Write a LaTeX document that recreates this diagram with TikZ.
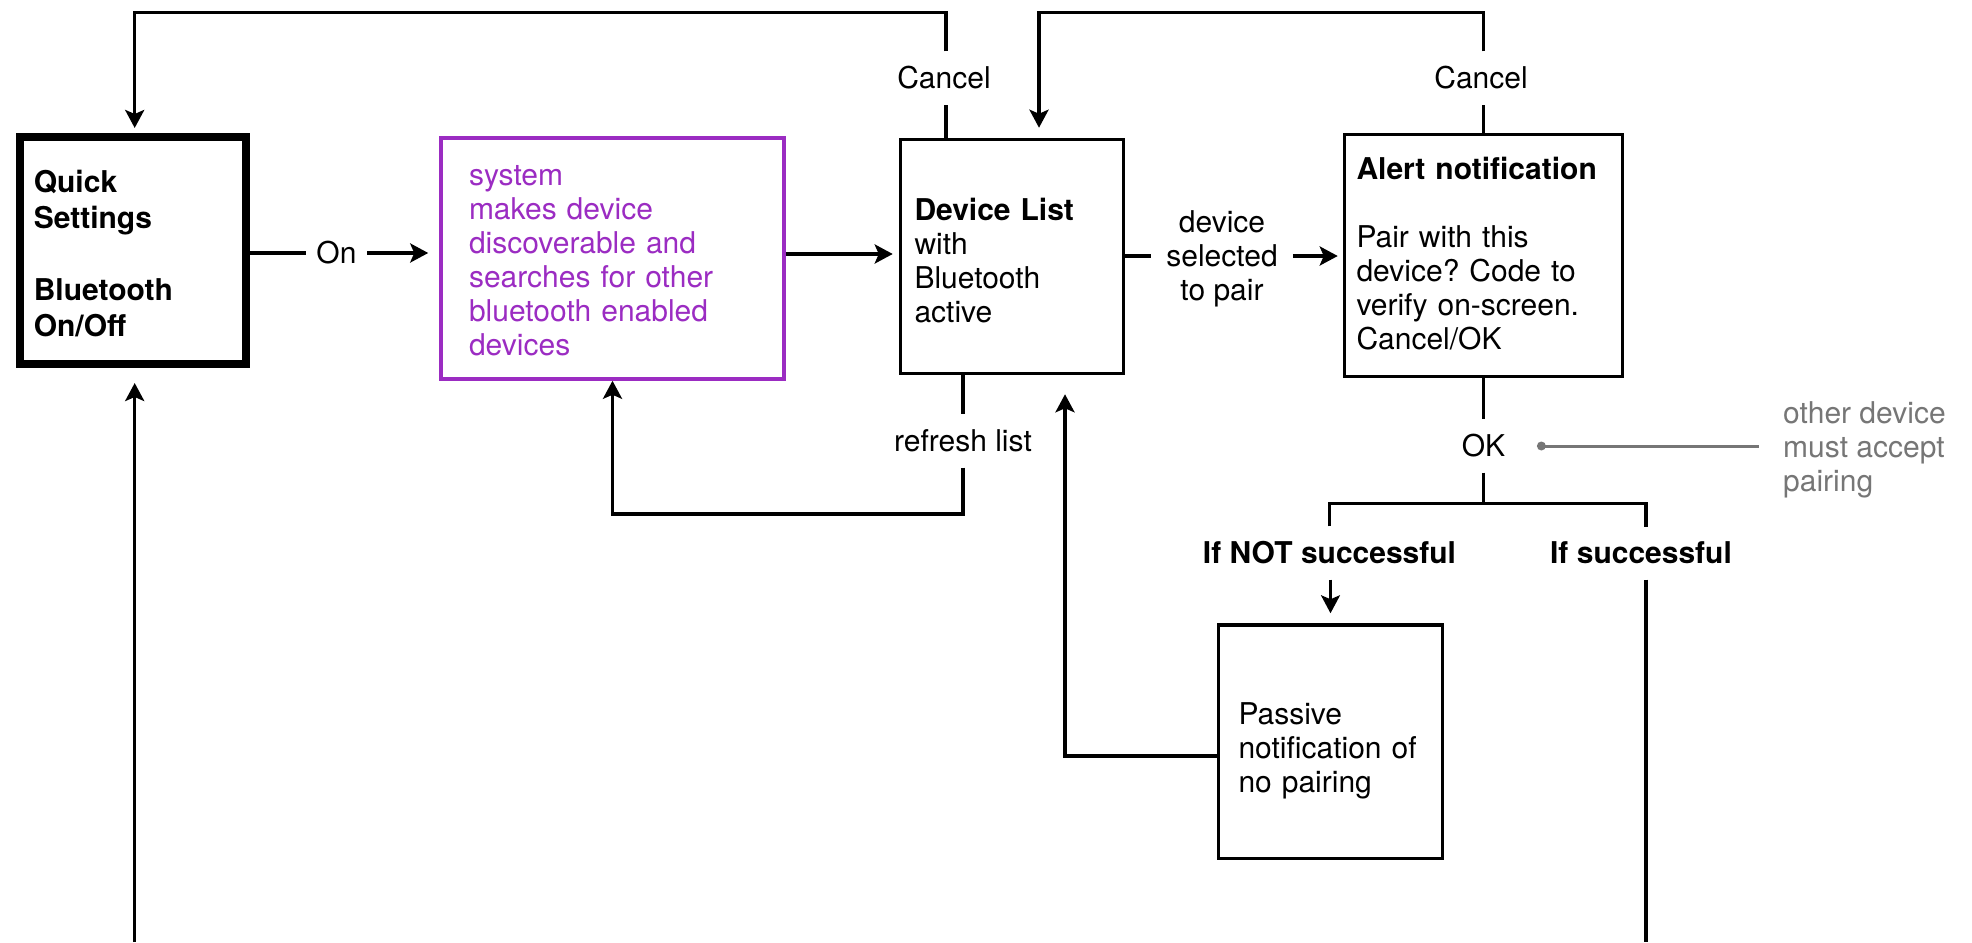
\documentclass[tikz,border=0pt]{standalone}
\usepackage{fontspec}
\setmainfont{TeX Gyre Heros}
\frenchspacing
\usetikzlibrary{arrows.meta,
                positioning}
\definecolor{mpurple}{RGB}{155,44,194}
\definecolor{mgray}{RGB}{118,118,118}
\tikzset{
        box/.style = {rectangle, draw, line width=3.5pt, align=left, inner ysep=0pt},
        tag/.style = {inner xsep=12pt, inner ysep=0pt, minimum height=53pt, align=center},
        line/.style = {draw, line width=3.5pt},
       arrow/.style = {line, -{Stealth[length=18pt, width=19pt, inset=4pt]}},
        note/.style = {text=mgray, align=left, inner xsep=24pt, inner ysep=0pt}
        }

\begin{document}
\begin{tikzpicture}[x=1pt, y=-1pt, font=\fontsize{30}{34}\selectfont
                        ]
\useasboundingbox (0,0) rectangle (1972,942);
% boxes
\node [box, line width=8pt, minimum width=226.5pt, minimum height=227pt, text width=198pt,
       inner xsep=14pt, font=\fontsize{30}{36}\selectfont\bfseries] (qs) at (132.75,250.5)
       {\rule{0pt}{28pt}Quick\\Settings\\[36pt]Bluetooth\\On/Off};
\node [box, draw=mpurple, text=mpurple, minimum width=343pt, minimum height=241pt,
       text width=287pt, inner xsep=28pt] (sys) at (612.5,258.5)
       {\rule{0pt}{24pt}system\\makes device\\discoverable and\\searches for other\\bluetooth enabled\\devices};
\node [box, minimum width=223pt, minimum height=234pt, text width=195pt, inner xsep=14pt] (dl) at (1012,256.5)
       {\rule{0pt}{30pt}\textbf{Device List}\\with\\Bluetooth\\active};
\node [box, minimum width=278pt, minimum height=242pt, text width=254pt, inner xsep=12pt] (an) at (1483.5,255.5)
       {\textbf{Alert notification}\\[34pt]Pair with this\\device? Code to\\verify on-screen.\\Cancel/OK\rule[-5pt]{0pt}{0pt}};
\node [box, minimum width=224pt, minimum height=233.5pt, text width=184pt, inner xsep=20pt] (pn) at (1330.5,741.75)
       {\rule{0pt}{40pt}Passive\\notification of\\no pairing};
% labels on the connectors
\node [tag, inner xsep=10.5pt] (on) at (336.5,253) {On};
\node [tag, inner xsep=15pt] (pair) at (1222,256) {\rule{0pt}{27pt}device\\selected\\to pair};
\node [tag] (cancelA) at (944,78) {Cancel};
\node [tag] (cancelB) at (1481,78) {Cancel};
\node [tag] (refresh) at (963,441) {refresh list};
\node [tag] (ok) at (1483.5,446) {OK};
\node [tag, font=\fontsize{30}{34}\selectfont\bfseries] (notok) at (1329.5,553) {If NOT successful};
\node [tag, font=\fontsize{30}{34}\selectfont\bfseries] (yes) at (1641,553) {If successful};
\node [note, anchor=west] (extra) at (1759,450) {other device\\must accept\\pairing};
% free ends
\coordinate (topleft) at (134.7,12.5);
\coordinate (topmid) at (1039,12.5);
\coordinate (loopbot) at (612.5,514);
\coordinate (split) at (1483.5,503.7);
\coordinate (yesleg) at (1646,526.5);
\coordinate (dlback) at ([xshift=53pt]dl.south);
\coordinate (sysout) at ([yshift=4.5pt]sys.east);
\coordinate (dot) at ([xshift=24pt]ok.east);
\coordinate (offl) at (134.7,942);
\coordinate (offr) at (1646,942);
% connectors
\draw [line] (qs.east |- on) -- (on);
\draw [arrow, shorten >=11pt] (on) -- (on -| sys.west);
\draw [arrow, shorten >=6pt] (sysout) -- (sysout -| dl.west);
\draw [line] (dl.east |- pair) -- (pair);
\draw [arrow, shorten >=5pt] (pair) -- (pair -| an.west);
\draw [line] (946,0 |- dl.north) -- (946,0 |- cancelA.south);
\draw [arrow, shorten >=5pt] (946,0 |- cancelA.north) |- (topleft) -- (topleft |- qs.north);
\draw [line] (an) -- (ok);
\draw [line] (an.north) -- (an.north |- cancelB.south);
\draw [arrow, shorten >=10pt] (an.north |- cancelB.north) |- (topmid) -- (topmid |- dl.north);
\draw [line] (dl.south -| refresh) -- (refresh);
\draw [arrow] (refresh) |- (loopbot) -- (sys);
\draw [line] (ok) -- (split);
\draw [line] (notok) |- (split) -| (yesleg);
\draw [arrow, line width=2.5pt, shorten >=10pt] (notok.south -| pn.north) -- (pn);
\draw [line] (yes.south -| offr) -- (offr);
\draw [arrow, shorten >=19pt] ([yshift=-14pt]pn.west) -| (dlback);
\draw [arrow, shorten >=15pt] (offl) -- (offl |- qs.south);
\fill [mgray] (dot) circle (4.5pt);
\draw [line, draw=mgray, line width=3pt] (dot) -- (dot -| extra.west);
\end{tikzpicture}
\end{document}
